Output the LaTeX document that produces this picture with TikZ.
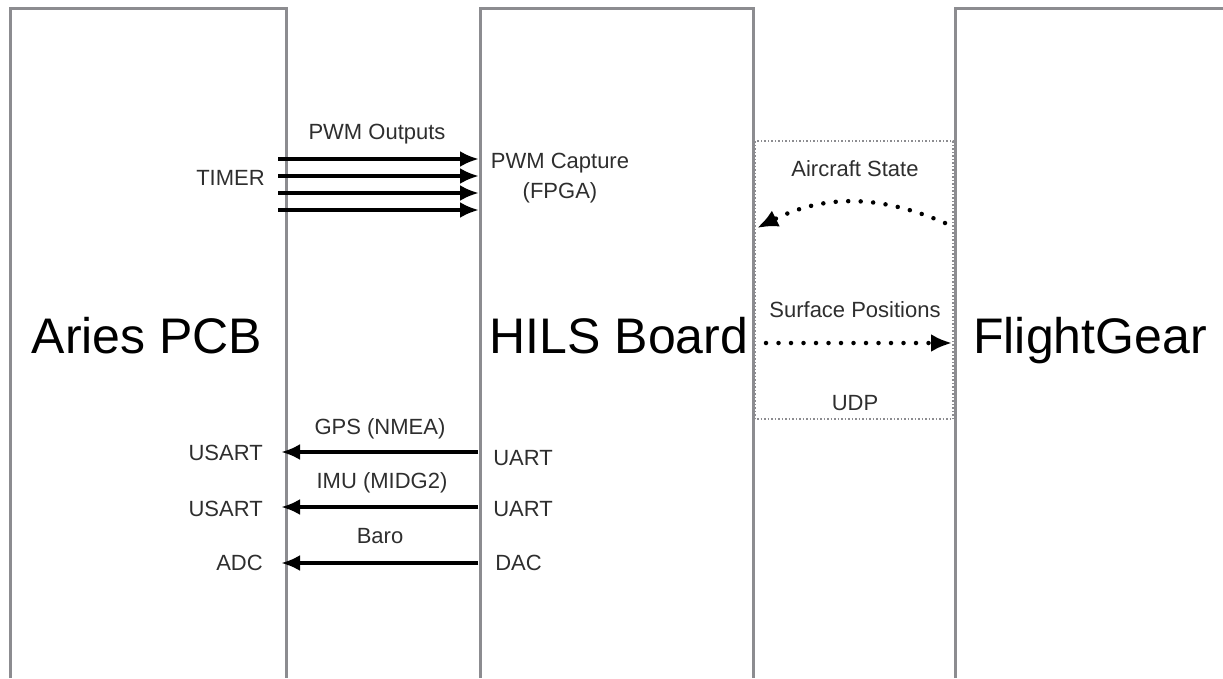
\documentclass[tikz,border=0pt]{standalone}
\usepackage{fontspec}
\setmainfont{Liberation Sans}
\usepackage{xcolor}
\usetikzlibrary{arrows.meta}
\definecolor{gr}{HTML}{8C8C90}
\definecolor{txt}{HTML}{2E2E2E}

\begin{document}
\begin{tikzpicture}[
            x = 1pt, y = -1pt, % pixel grid, y runs down
            semithick % line style
        ]

        \tikzstyle{every node}=[
            inner sep = 0pt,
            text = txt,
            font = \fontsize{22}{30}\selectfont
        ]
        \tikzstyle{big}=[text = black, font = \fontsize{50}{60}\selectfont]
        \tikzstyle{board}=[draw = gr, line width = 3pt]
        \tikzstyle{wire}=[line width = 4pt, -{Latex[length = 19pt, width = 16pt]}]
        \tikzstyle{link}=[line width = 4.5pt, line cap = round,
            dash pattern = on 0pt off 12.5pt, -{Latex[length = 21pt, width = 18pt]}]

        \useasboundingbox (0, 0) rectangle (1223, 678);

        % boards, open at the bottom
        \draw[board] (10, 678) -- (10, 8) -- (286, 8) -- (286, 678);
        \draw[board] (480, 678) -- (480, 8) -- (753, 8) -- (753, 678);
        \draw[board] (955, 678) -- (955, 8) -- (1223, 8);
        \draw[gr, line width = 1.5pt, dash pattern = on 1.5pt off 2pt] (755, 141) rectangle (953, 419);

        \node[big, anchor = base] (aries) [at={(147, 353)}] {Aries PCB};
        \node[big, anchor = base] (hils) [at={(619, 353)}] {HILS Board};
        \node[big, anchor = base] (fg) [at={(1090, 353)}] {FlightGear};

        % PWM
        \node[anchor = base] (pwmout) [at={(377, 139)}] {PWM Outputs};
        \node[anchor = base east] (timer) [at={(265, 185)}] {TIMER};
        \node[anchor = north, align = center] (pwmcap) [at={(560, 153)}] {PWM Capture\\(FPGA)};
        \coordinate (tmr1) at (278, 159);
        \coordinate (tmr2) at (278, 176);
        \coordinate (tmr3) at (278, 193);
        \coordinate (tmr4) at (278, 210);
        \coordinate (cap1) at (479, 159);
        \coordinate (cap2) at (479, 176);
        \coordinate (cap3) at (479, 193);
        \coordinate (cap4) at (479, 210);
        \path[wire] (tmr1) edge (cap1);
        \path[wire] (tmr2) edge (cap2);
        \path[wire] (tmr3) edge (cap3);
        \path[wire] (tmr4) edge (cap4);

        % serial and analog links
        \node[anchor = base] (gps) [at={(380, 434)}] {GPS (NMEA)};
        \node[anchor = base] (imu) [at={(382, 488)}] {IMU (MIDG2)};
        \node[anchor = base] (baro) [at={(380, 543)}] {Baro};
        \node[anchor = base east] (usarta) [at={(263, 460)}] {USART};
        \node[anchor = base east] (usartb) [at={(263, 516)}] {USART};
        \node[anchor = base east] (adc) [at={(263, 570)}] {ADC};
        \node[anchor = base west] (uarta) [at={(493, 465)}] {UART};
        \node[anchor = base west] (uartb) [at={(493, 516)}] {UART};
        \node[anchor = base west] (dac) [at={(495, 570)}] {DAC};
        \coordinate (ha) at (478, 452);
        \coordinate (hb) at (478, 507);
        \coordinate (hc) at (478, 563);
        \coordinate (pa) at (281, 452);
        \coordinate (pb) at (281, 507);
        \coordinate (pc) at (281, 563);
        \path[wire] (ha) edge (pa);
        \path[wire] (hb) edge (pb);
        \path[wire] (hc) edge (pc);

        % UDP
        \node[anchor = base] (state) [at={(855, 176)}] {Aircraft State};
        \node[anchor = base] (surf) [at={(855, 317)}] {Surface Positions};
        \node[anchor = base] (udp) [at={(855, 410)}] {UDP};
        \coordinate (fgst) at (945, 223);
        \coordinate (hilsst) at (757, 228);
        \coordinate (hilssp) at (766, 343);
        \coordinate (fgsp) at (952, 343);
        \path[link] (fgst) edge[bend right = 25] (hilsst);
        \path[link] (hilssp) edge (fgsp);
    \end{tikzpicture}
\end{document}
